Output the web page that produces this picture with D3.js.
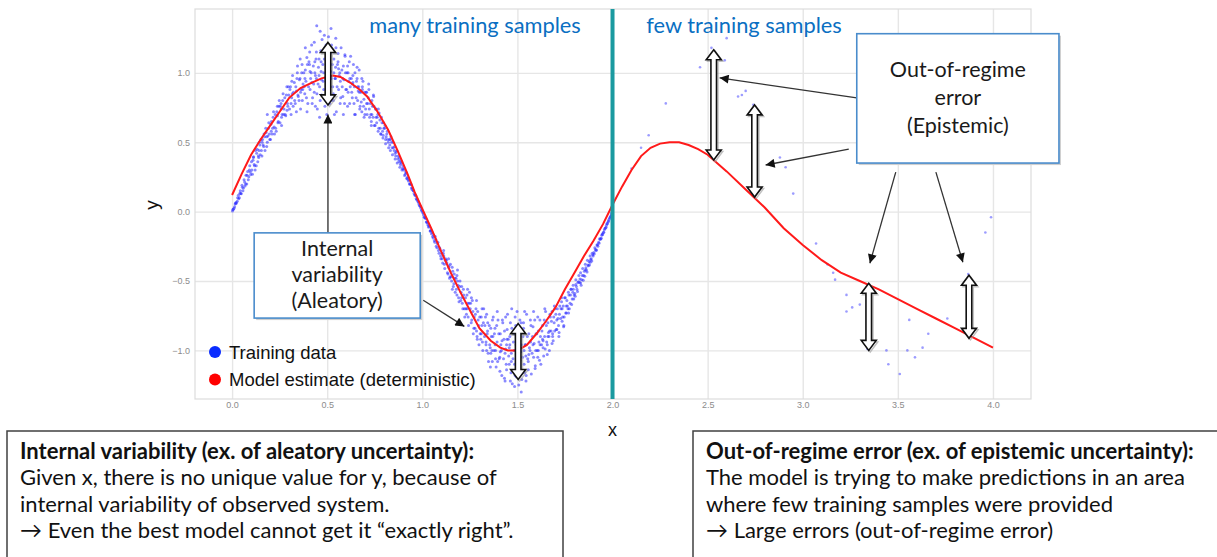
<!DOCTYPE html>
<html>
<head>
<meta charset="utf-8">
<script src="https://cdn.jsdelivr.net/npm/d3@7"></script>
<style>
  body { margin: 0; background: #fff; }
  svg { display: block; }
</style>
</head>
<body>
<div id="chart"></div>
<script>
// ---- data ----
const xTicks = [0, 0.5, 1, 1.5, 2, 2.5, 3, 3.5, 4];
const yTicks = [-1, -0.5, 0, 0.5, 1];

// dense training samples, x in [0, 2] (first pass)
const denseData = [
  [0.002,0.004],[0.007,0.018],[0.013,0.035],[0.018,0.062],[0.023,0.066],
  [0.027,0.075],[0.033,0.118],[0.038,0.100],[0.043,0.150],[0.048,0.128],
  [0.052,0.190],[0.057,0.150],[0.063,0.230],[0.068,0.185],[0.073,0.262],
  [0.077,0.200],[0.082,0.290],[0.088,0.252],[0.093,0.330],[0.098,0.268],
  [0.102,0.360],[0.107,0.270],[0.113,0.395],[0.118,0.330],[0.123,0.440],
  [0.127,0.330],[0.132,0.450],[0.138,0.400],[0.143,0.500],[0.148,0.410],
  [0.152,0.520],[0.157,0.400],[0.163,0.480],[0.168,0.560],[0.173,0.440],
  [0.177,0.600],[0.182,0.470],[0.188,0.545],[0.193,0.640],[0.198,0.520],[0.185,0.700],
  [0.202,0.520],[0.207,0.650],[0.213,0.600],[0.218,0.720],[0.223,0.560],
  [0.227,0.700],[0.232,0.580],[0.238,0.760],[0.243,0.650],[0.248,0.800],
  [0.252,0.640],[0.257,0.780],[0.263,0.700],[0.268,0.850],[0.273,0.740],[0.260,0.620],
  [0.277,0.820],[0.282,0.690],[0.288,0.900],[0.293,0.760],[0.298,0.840],
  [0.302,0.740],[0.307,0.900],[0.313,0.820],[0.318,0.980],[0.323,0.860],[0.310,0.700],
  [0.327,0.930],[0.332,0.780],[0.338,0.870],[0.343,1.000],[0.348,0.830],
  [0.352,0.800],[0.357,0.960],[0.363,0.880],[0.368,1.060],[0.373,0.920],[0.360,0.740],
  [0.377,1.000],[0.382,0.850],[0.388,0.940],[0.393,1.110],[0.398,0.780],[0.385,1.180],
  [0.402,0.900],[0.407,1.060],[0.413,0.960],[0.418,1.200],[0.423,0.820],[0.410,1.010],
  [0.427,1.050],[0.432,0.860],[0.438,0.980],[0.443,1.150],[0.448,0.740],[0.445,1.340],[0.435,1.080],
  [0.452,0.920],[0.457,1.100],[0.463,0.800],[0.468,1.010],[0.473,1.240],[0.460,0.680],[0.470,0.950],
  [0.477,1.060],[0.482,0.880],[0.488,1.180],[0.493,0.960],[0.498,0.700],[0.485,1.270],[0.495,1.030],
  [0.502,0.940],[0.507,1.120],[0.513,0.780],[0.518,1.010],[0.523,1.200],[0.515,0.900],[0.520,1.320],
  [0.527,1.060],[0.532,0.850],[0.538,1.150],[0.543,0.960],[0.548,0.720],[0.535,1.000],[0.545,1.250],
  [0.552,0.900],[0.557,1.080],[0.563,0.980],[0.568,0.780],[0.573,1.180],[0.560,1.030],
  [0.577,1.020],[0.582,0.830],[0.588,0.950],[0.593,1.130],[0.598,0.880],[0.585,0.700],
  [0.602,0.880],[0.607,1.050],[0.613,0.940],[0.618,0.780],[0.623,1.120],[0.610,1.000],
  [0.627,0.960],[0.632,0.820],[0.638,1.060],[0.643,0.900],[0.648,0.700],[0.635,0.930],
  [0.652,0.820],[0.657,0.960],[0.663,0.870],[0.668,1.020],[0.673,0.760],[0.660,0.900],
  [0.677,0.860],[0.682,0.720],[0.688,0.940],[0.693,0.810],[0.698,0.700],[0.685,0.880],
  [0.702,0.740],[0.707,0.860],[0.713,0.780],[0.718,0.920],[0.723,0.680],
  [0.727,0.780],[0.732,0.650],[0.738,0.760],[0.743,0.840],[0.748,0.620],[0.735,0.700],
  [0.752,0.620],[0.757,0.740],[0.763,0.680],[0.768,0.580],[0.773,0.710],
  [0.777,0.660],[0.782,0.560],[0.788,0.640],[0.793,0.530],[0.798,0.600],
  [0.802,0.600],[0.807,0.490],[0.813,0.560],[0.818,0.520],[0.823,0.460],
  [0.827,0.520],[0.832,0.440],[0.838,0.500],[0.843,0.410],[0.848,0.460],
  [0.852,0.440],[0.857,0.380],[0.863,0.430],[0.868,0.350],[0.873,0.400],
  [0.877,0.360],[0.882,0.320],[0.888,0.350],[0.893,0.300],[0.898,0.330],
  [0.902,0.300],[0.907,0.260],[0.913,0.285],[0.918,0.240],[0.923,0.250],
  [0.927,0.220],[0.932,0.200],[0.938,0.200],[0.943,0.170],[0.948,0.170],
  [0.952,0.150],[0.957,0.130],[0.963,0.120],[0.968,0.095],[0.973,0.090],
  [0.977,0.075],[0.982,0.055],[0.988,0.040],[0.993,0.025],[0.998,0.008],
  [1.002,-0.005],[1.007,-0.025],[1.013,-0.040],[1.018,-0.050],[1.023,-0.075],
  [1.027,-0.080],[1.032,-0.110],[1.038,-0.110],[1.043,-0.140],[1.048,-0.160],
  [1.052,-0.150],[1.057,-0.190],[1.063,-0.210],[1.068,-0.180],[1.073,-0.250],
  [1.077,-0.260],[1.082,-0.220],[1.088,-0.300],[1.093,-0.270],[1.098,-0.340],
  [1.102,-0.300],[1.107,-0.370],[1.113,-0.320],[1.118,-0.410],[1.123,-0.340],
  [1.127,-0.350],[1.132,-0.440],[1.138,-0.400],[1.143,-0.480],[1.148,-0.380],
  [1.152,-0.470],[1.157,-0.400],[1.163,-0.540],[1.168,-0.450],[1.173,-0.580],
  [1.177,-0.480],[1.182,-0.600],[1.188,-0.530],[1.193,-0.650],[1.198,-0.500],[1.185,-0.420],
  [1.202,-0.640],[1.207,-0.540],[1.213,-0.700],[1.218,-0.600],[1.223,-0.760],
  [1.227,-0.620],[1.232,-0.740],[1.238,-0.660],[1.243,-0.820],[1.248,-0.580],[1.235,-0.700],
  [1.252,-0.700],[1.257,-0.800],[1.263,-0.640],[1.268,-0.880],[1.273,-0.760],
  [1.277,-0.840],[1.282,-0.700],[1.288,-0.900],[1.293,-0.780],[1.298,-0.960],[1.285,-0.640],
  [1.302,-0.760],[1.307,-0.920],[1.313,-0.820],[1.318,-1.000],[1.323,-0.700],[1.310,-0.880],
  [1.327,-0.900],[1.332,-0.760],[1.338,-1.000],[1.343,-0.860],[1.348,-1.080],[1.335,-0.940],
  [1.352,-0.820],[1.357,-0.980],[1.363,-0.900],[1.368,-1.080],[1.373,-0.760],[1.360,-1.020],
  [1.377,-1.000],[1.382,-0.840],[1.388,-1.120],[1.393,-0.940],[1.398,-0.780],[1.385,-1.060],
  [1.402,-0.880],[1.407,-1.050],[1.413,-0.960],[1.418,-1.180],[1.423,-0.800],[1.410,-1.010],
  [1.427,-1.060],[1.432,-0.860],[1.438,-0.990],[1.443,-1.140],[1.448,-0.740],[1.435,-1.220],[1.445,-0.920],
  [1.452,-0.920],[1.457,-1.100],[1.463,-0.800],[1.468,-1.020],[1.473,-1.240],[1.460,-0.960],[1.470,-0.700],
  [1.477,-1.060],[1.482,-0.880],[1.488,-1.180],[1.493,-0.960],[1.498,-0.720],[1.485,-1.260],[1.495,-1.030],
  [1.502,-0.940],[1.507,-1.120],[1.513,-0.780],[1.518,-1.010],[1.523,-1.210],[1.515,-0.880],[1.520,-1.300],
  [1.527,-1.050],[1.532,-0.840],[1.538,-1.160],[1.543,-0.960],[1.548,-0.740],[1.535,-1.000],[1.545,-1.220],
  [1.552,-0.900],[1.557,-1.080],[1.563,-0.980],[1.568,-0.780],[1.573,-1.170],[1.560,-1.030],
  [1.577,-1.020],[1.582,-0.830],[1.588,-0.950],[1.593,-1.130],[1.598,-0.880],[1.585,-0.720],
  [1.602,-0.880],[1.607,-1.050],[1.613,-0.940],[1.618,-0.780],[1.623,-1.100],[1.610,-1.000],
  [1.627,-0.960],[1.632,-0.820],[1.638,-1.040],[1.643,-0.900],[1.648,-0.720],[1.635,-0.930],
  [1.652,-0.820],[1.657,-0.960],[1.663,-0.870],[1.668,-1.000],[1.673,-0.760],[1.660,-0.900],
  [1.677,-0.860],[1.682,-0.720],[1.688,-0.930],[1.693,-0.800],[1.698,-0.700],[1.685,-0.880],
  [1.702,-0.740],[1.707,-0.850],[1.713,-0.770],[1.718,-0.900],[1.723,-0.680],
  [1.727,-0.770],[1.732,-0.650],[1.738,-0.760],[1.743,-0.830],[1.748,-0.620],[1.735,-0.700],
  [1.752,-0.620],[1.757,-0.730],[1.763,-0.680],[1.768,-0.580],[1.773,-0.700],
  [1.777,-0.660],[1.782,-0.560],[1.788,-0.630],[1.793,-0.530],[1.798,-0.600],
  [1.802,-0.590],[1.807,-0.490],[1.813,-0.560],[1.818,-0.510],[1.823,-0.460],
  [1.827,-0.510],[1.832,-0.440],[1.838,-0.490],[1.843,-0.410],[1.848,-0.460],
  [1.852,-0.430],[1.857,-0.380],[1.863,-0.420],[1.868,-0.350],[1.873,-0.390],
  [1.877,-0.360],[1.882,-0.320],[1.888,-0.340],[1.893,-0.300],[1.898,-0.320],
  [1.902,-0.295],[1.907,-0.260],[1.913,-0.280],[1.918,-0.240],[1.923,-0.250],
  [1.927,-0.220],[1.932,-0.195],[1.938,-0.195],[1.943,-0.170],[1.948,-0.165],
  [1.952,-0.150],[1.957,-0.130],[1.963,-0.118],[1.968,-0.098],[1.973,-0.088],
  [1.977,-0.072],[1.982,-0.055],[1.988,-0.038],[1.993,-0.024],[1.998,-0.006]
];

// dense training samples, second pass
const denseExtra = [
  [0.004,0.016],[0.010,0.024],[0.016,0.055],[0.021,0.058],
  [0.029,0.100],[0.035,0.092],[0.041,0.132],[0.046,0.130],
  [0.054,0.175],[0.060,0.170],[0.066,0.214],[0.071,0.200],
  [0.079,0.262],[0.085,0.230],[0.091,0.300],[0.096,0.285],
  [0.104,0.300],[0.110,0.370],[0.116,0.340],[0.121,0.300],[0.112,0.390],
  [0.129,0.420],[0.135,0.360],[0.141,0.440],[0.146,0.480],[0.140,0.390],
  [0.154,0.440],[0.160,0.520],[0.166,0.470],[0.171,0.540],[0.158,0.500],
  [0.179,0.570],[0.185,0.500],[0.191,0.600],[0.196,0.560],[0.182,0.540],
  [0.204,0.630],[0.210,0.560],[0.216,0.680],[0.221,0.610],[0.206,0.580],
  [0.229,0.600],[0.235,0.720],[0.241,0.640],[0.246,0.760],[0.238,0.690],
  [0.254,0.760],[0.260,0.680],[0.266,0.800],[0.271,0.700],[0.258,0.740],
  [0.279,0.700],[0.285,0.840],[0.291,0.780],[0.296,0.900],[0.289,0.730],
  [0.304,0.880],[0.310,0.780],[0.316,0.850],[0.321,0.760],[0.314,0.940],
  [0.329,0.800],[0.335,0.900],[0.341,0.960],[0.346,0.840],[0.338,0.720],[0.344,1.050],
  [0.354,0.950],[0.360,0.860],[0.366,1.000],[0.371,0.880],[0.358,1.100],[0.369,0.800],
  [0.379,0.900],[0.385,1.020],[0.391,0.820],[0.396,1.060],[0.383,0.960],[0.394,0.720],
  [0.404,1.080],[0.410,0.880],[0.416,1.000],[0.421,0.780],[0.408,1.150],[0.419,0.930],
  [0.429,0.920],[0.435,1.000],[0.441,1.100],[0.446,0.850],[0.432,1.220],[0.443,0.960],[0.438,0.760],
  [0.454,1.040],[0.460,0.900],[0.466,1.160],[0.471,0.840],[0.457,0.980],[0.468,1.080],[0.463,1.300],
  [0.479,0.940],[0.485,1.100],[0.491,0.820],[0.496,1.060],[0.482,1.000],[0.494,1.200],[0.488,0.760],
  [0.504,1.040],[0.510,0.860],[0.516,1.140],[0.521,0.960],[0.507,1.260],[0.519,0.800],[0.513,1.070],
  [0.529,0.900],[0.535,1.100],[0.541,0.960],[0.546,1.180],[0.532,0.800],[0.544,1.040],[0.538,0.700],
  [0.554,1.060],[0.560,0.880],[0.566,1.000],[0.571,0.820],[0.557,1.140],[0.569,0.940],
  [0.579,0.900],[0.585,1.050],[0.591,0.780],[0.596,1.000],[0.582,0.960],[0.594,1.120],
  [0.604,1.000],[0.610,0.860],[0.616,1.080],[0.621,0.900],[0.607,0.760],[0.619,0.960],
  [0.629,0.860],[0.635,0.980],[0.641,0.780],[0.646,1.000],[0.632,0.920],[0.644,0.700],
  [0.654,0.940],[0.660,0.800],[0.666,0.900],[0.671,0.740],[0.657,1.040],[0.669,0.860],
  [0.679,0.790],[0.685,0.900],[0.691,0.760],[0.696,0.860],[0.682,0.960],[0.694,0.680],
  [0.704,0.860],[0.710,0.700],[0.716,0.820],[0.721,0.740],[0.707,0.780],[0.719,0.880],
  [0.729,0.700],[0.735,0.800],[0.741,0.680],[0.746,0.760],[0.732,0.620],[0.744,0.830],
  [0.754,0.740],[0.760,0.640],[0.766,0.700],[0.771,0.600],[0.757,0.680],[0.769,0.740],
  [0.779,0.600],[0.785,0.680],[0.791,0.580],[0.796,0.640],[0.782,0.560],[0.794,0.550],
  [0.804,0.620],[0.810,0.540],[0.816,0.580],[0.821,0.500],[0.807,0.520],
  [0.829,0.480],[0.835,0.540],[0.841,0.460],[0.846,0.500],[0.832,0.520],
  [0.854,0.470],[0.860,0.400],[0.866,0.440],[0.871,0.380],[0.857,0.420],
  [0.879,0.390],[0.885,0.340],[0.891,0.360],[0.896,0.310],[0.883,0.370],
  [0.904,0.310],[0.910,0.270],[0.916,0.280],[0.921,0.235],
  [0.929,0.230],[0.935,0.200],[0.941,0.195],[0.946,0.160],
  [0.954,0.150],[0.960,0.120],[0.966,0.115],[0.971,0.085],
  [0.979,0.070],[0.985,0.045],[0.991,0.035],[0.996,0.010],
  [1.004,-0.010],[1.010,-0.040],[1.016,-0.045],[1.021,-0.075],
  [1.029,-0.095],[1.035,-0.100],[1.041,-0.140],[1.046,-0.135],
  [1.054,-0.180],[1.060,-0.170],[1.066,-0.220],[1.071,-0.200],
  [1.079,-0.230],[1.085,-0.280],[1.091,-0.260],[1.096,-0.320],
  [1.104,-0.340],[1.110,-0.300],[1.116,-0.380],[1.121,-0.350],[1.112,-0.280],
  [1.129,-0.370],[1.135,-0.450],[1.141,-0.390],[1.146,-0.470],[1.138,-0.340],
  [1.154,-0.500],[1.160,-0.430],[1.166,-0.520],[1.171,-0.480],[1.158,-0.560],
  [1.179,-0.560],[1.185,-0.500],[1.191,-0.620],[1.196,-0.540],[1.182,-0.460],
  [1.204,-0.580],[1.210,-0.660],[1.216,-0.560],[1.221,-0.700],[1.207,-0.620],
  [1.229,-0.700],[1.235,-0.600],[1.241,-0.760],[1.246,-0.660],[1.238,-0.560],
  [1.254,-0.660],[1.260,-0.780],[1.266,-0.720],[1.271,-0.840],[1.258,-0.620],
  [1.279,-0.740],[1.285,-0.860],[1.291,-0.720],[1.296,-0.820],[1.289,-0.920],
  [1.304,-0.880],[1.310,-0.760],[1.316,-0.940],[1.321,-0.800],[1.314,-0.700],
  [1.329,-0.820],[1.335,-0.960],[1.341,-0.880],[1.346,-1.020],[1.338,-0.740],[1.344,-0.800],
  [1.354,-0.960],[1.360,-0.840],[1.366,-1.000],[1.371,-0.900],[1.358,-1.120],[1.369,-0.780],
  [1.379,-0.880],[1.385,-1.000],[1.391,-0.820],[1.396,-1.080],[1.383,-0.960],[1.394,-0.720],
  [1.404,-1.060],[1.410,-0.880],[1.416,-1.000],[1.421,-0.780],[1.408,-1.150],[1.419,-0.930],
  [1.429,-0.920],[1.435,-1.020],[1.441,-1.100],[1.446,-0.850],[1.432,-1.200],[1.443,-0.960],[1.438,-0.760],
  [1.454,-1.040],[1.460,-0.900],[1.466,-1.160],[1.471,-0.840],[1.457,-0.980],[1.468,-1.080],[1.463,-1.220],
  [1.479,-0.940],[1.485,-1.100],[1.491,-0.820],[1.496,-1.060],[1.482,-1.000],[1.494,-1.190],[1.488,-0.760],
  [1.504,-1.040],[1.510,-0.860],[1.516,-1.140],[1.521,-0.960],[1.507,-1.250],[1.519,-0.800],[1.513,-1.070],
  [1.529,-0.900],[1.535,-1.100],[1.541,-0.960],[1.546,-1.180],[1.532,-0.800],[1.544,-1.040],[1.538,-0.720],
  [1.554,-1.060],[1.560,-0.880],[1.566,-1.000],[1.571,-0.820],[1.557,-1.140],[1.569,-0.940],
  [1.579,-0.900],[1.585,-1.050],[1.591,-0.780],[1.596,-1.000],[1.582,-0.960],[1.594,-1.110],
  [1.604,-1.000],[1.610,-0.860],[1.616,-1.070],[1.621,-0.900],[1.607,-0.760],[1.619,-0.960],
  [1.629,-0.860],[1.635,-0.980],[1.641,-0.780],[1.646,-0.990],[1.632,-0.920],[1.644,-0.700],
  [1.654,-0.940],[1.660,-0.800],[1.666,-0.900],[1.671,-0.740],[1.657,-1.030],[1.669,-0.860],
  [1.679,-0.790],[1.685,-0.900],[1.691,-0.760],[1.696,-0.860],[1.682,-0.950],[1.694,-0.680],
  [1.704,-0.850],[1.710,-0.700],[1.716,-0.820],[1.721,-0.740],[1.707,-0.780],[1.719,-0.870],
  [1.729,-0.700],[1.735,-0.790],[1.741,-0.680],[1.746,-0.760],[1.732,-0.620],[1.744,-0.820],
  [1.754,-0.730],[1.760,-0.640],[1.766,-0.700],[1.771,-0.600],[1.757,-0.680],[1.769,-0.730],
  [1.779,-0.600],[1.785,-0.670],[1.791,-0.580],[1.796,-0.630],[1.782,-0.560],[1.794,-0.560],
  [1.804,-0.610],[1.810,-0.540],[1.816,-0.575],[1.821,-0.505],[1.807,-0.525],
  [1.829,-0.485],[1.835,-0.530],[1.841,-0.460],[1.846,-0.495],[1.832,-0.515],
  [1.854,-0.465],[1.860,-0.405],[1.866,-0.435],[1.871,-0.385],[1.857,-0.420],
  [1.879,-0.385],[1.885,-0.345],[1.891,-0.355],[1.896,-0.310],[1.883,-0.365],
  [1.904,-0.305],[1.910,-0.272],[1.916,-0.276],[1.921,-0.238],
  [1.929,-0.228],[1.935,-0.200],[1.941,-0.192],[1.946,-0.162],
  [1.954,-0.148],[1.960,-0.122],[1.966,-0.113],[1.971,-0.086],
  [1.979,-0.068],[1.985,-0.046],[1.991,-0.033],[1.996,-0.012]
];

// few training samples, x in (2, 4]
const sparseData = [
  [2.10,0.31],[2.15,0.46],[2.19,0.55],[2.28,0.78],[2.46,1.04],[2.52,1.18],
  [2.59,1.09],[2.60,1.25],[2.66,0.83],[2.68,0.84],[2.70,0.87],[2.74,0.77],
  [2.88,0.39],[2.91,0.32],[2.95,0.13],[3.07,-0.23],[3.13,-0.38],[3.16,-0.44],
  [3.17,-0.49],[3.23,-0.60],[3.23,-0.72],[3.26,-0.69],[3.30,-0.67],[3.34,-0.99],
  [3.44,-1.00],[3.45,-1.10],[3.51,-1.17],[3.55,-1.00],[3.56,-0.78],[3.59,-1.05],
  [3.63,-0.98],[3.66,-0.88],[3.76,-0.77],[3.87,-0.45],[3.96,-0.15],[3.99,-0.04]
];

// model estimate (red line)
const modelX = [0, 0.05, 0.1, 0.15, 0.2, 0.25, 0.3, 0.36, 0.42, 0.47, 0.53, 0.57, 0.62, 0.67,
  0.71, 0.76, 0.82, 0.87, 0.92, 0.96, 1.0, 1.05, 1.1, 1.15, 1.2, 1.25, 1.3, 1.36, 1.41, 1.45,
  1.5, 1.55, 1.6, 1.65, 1.7, 1.75, 1.8, 1.85, 1.9, 1.95, 2.0, 2.05, 2.1, 2.15, 2.2, 2.25, 2.3,
  2.35, 2.4, 2.45, 2.5, 2.6, 2.7, 2.8, 2.9, 3.0, 3.1, 3.2, 3.3, 3.4, 3.5, 3.6, 3.7, 3.8, 3.9, 4.0];
const modelY = [0.12, 0.27, 0.41, 0.52, 0.62, 0.72, 0.82, 0.89, 0.93, 0.96, 0.98, 0.97, 0.93, 0.88,
  0.83, 0.73, 0.59, 0.44, 0.28, 0.14, 0.02, -0.13, -0.29, -0.44, -0.58, -0.71, -0.84, -0.93, -0.98, -1.00,
  -1.00, -0.96, -0.88, -0.79, -0.69, -0.56, -0.44, -0.32, -0.21, -0.09, 0.05, 0.18, 0.30, 0.40, 0.46, 0.49, 0.50,
  0.50, 0.48, 0.45, 0.41, 0.29, 0.16, 0.03, -0.12, -0.24, -0.35, -0.44, -0.50, -0.56, -0.63, -0.70, -0.77, -0.84, -0.91, -0.98];

const splitX = 2.0;
const legendLabels = ['Training data', 'Model estimate (deterministic)'];
const legendColors = ['#0a2cff', '#ff0000'];
const regionLabels = ['many training samples', 'few training samples'];

// double arrows: [x, yTop, yBottom]
const spreadArrows = [
  [0.504, 1.219, 0.769], [1.504, -0.807, -1.209], [2.532, 1.166, 0.372],
  [2.747, 0.769, 0.105], [3.347, -0.516, -1.000], [3.874, -0.458, -0.913]
];
// pointer arrows: [x1, y1, x2, y2]
const pointers = [
  [0.504, -0.153, 0.504, 0.70], [1.005, -0.639, 1.221, -0.827],
  [3.284, 0.819, 2.563, 0.964], [3.242, 0.451, 2.805, 0.336],
  [3.489, 0.285, 3.353, -0.372], [3.700, 0.285, 3.842, -0.365]
];
const calloutA = ['Internal', 'variability', '(Aleatory)'];
const calloutB = ['Out-of-regime', 'error', '(Epistemic)'];
const noteLeft = ['Internal variability (ex. of aleatory uncertainty):',
  'Given x, there is no unique value for y, because of',
  'internal variability of observed system.',
  '\u2192 Even the best model cannot get it \u201cexactly right\u201d.'];
const noteRight = ['Out-of-regime error (ex. of epistemic uncertainty):',
  'The model is trying to make predictions in an area',
  'where few training samples were provided',
  '\u2192 Large errors (out-of-regime error)'];

// ---- layout ----
const width = 1217, height = 557;
const plot = {left: 195, right: 1031, top: 9, bottom: 399};

const x = d3.scaleLinear().domain([-0.195, 4.2]).range([plot.left, plot.right]);
const y = d3.scaleLinear().domain([-1.35, 1.46]).range([plot.bottom, plot.top]);
const fmt = d3.format('.1f');

const svg = d3.select('#chart').append('svg')
  .attr('width', width)
  .attr('height', height)
  .style('font-family', 'Lato, "Open Sans", sans-serif');

const defs = svg.append('defs');
defs.append('marker')
  .attr('id', 'tip')
  .attr('viewBox', '0 0 10 10')
  .attr('refX', 10).attr('refY', 5)
  .attr('markerWidth', 11).attr('markerHeight', 9)
  .attr('markerUnits', 'userSpaceOnUse')
  .attr('orient', 'auto')
  .append('path')
    .attr('d', 'M0,0L10,5L0,10Z')
    .attr('fill', '#111');

// grid + tick labels
const gx = svg.append('g')
  .attr('transform', `translate(0,${plot.bottom})`)
  .call(d3.axisBottom(x).tickValues(xTicks).tickFormat(fmt)
    .tickSize(-(plot.bottom - plot.top)).tickPadding(3));
const gy = svg.append('g')
  .attr('transform', `translate(${plot.left},0)`)
  .call(d3.axisLeft(y).tickValues(yTicks).tickFormat(fmt)
    .tickSize(-(plot.right - plot.left)).tickPadding(5));
[gx, gy].forEach(g => {
  g.select('.domain').remove();
  g.selectAll('line').attr('stroke', '#e6e6e6').attr('stroke-width', 1.4);
  g.selectAll('text')
    .attr('fill', '#8c8c8c')
    .style('font-size', '9px')
    .style('font-family', '"Liberation Sans", Arial, sans-serif');
});

svg.append('rect')
  .attr('x', plot.left).attr('y', plot.top)
  .attr('width', plot.right - plot.left).attr('height', plot.bottom - plot.top)
  .attr('fill', 'none').attr('stroke', '#dcdcdc').attr('stroke-width', 1.2);

// axis titles
svg.append('text')
  .attr('x', x(splitX)).attr('y', 436)
  .attr('text-anchor', 'middle')
  .style('font-family', '"Liberation Sans", Arial, sans-serif')
  .style('font-size', '18px').attr('fill', '#111')
  .text('x');
svg.append('text')
  .attr('transform', 'translate(158,205) rotate(-90)')
  .attr('text-anchor', 'middle')
  .style('font-family', '"Liberation Sans", Arial, sans-serif')
  .style('font-size', '19px').attr('fill', '#111')
  .text('y');

// training samples
svg.append('g')
  .selectAll('circle')
  .data(denseData.concat(denseExtra))
  .join('circle')
    .attr('cx', d => x(d[0]))
    .attr('cy', d => y(d[1]))
    .attr('r', 1.5)
    .attr('fill', '#2a2aff')
    .attr('fill-opacity', 0.55);
svg.append('g')
  .selectAll('circle')
  .data(sparseData)
  .join('circle')
    .attr('cx', d => x(d[0]))
    .attr('cy', d => y(d[1]))
    .attr('r', 1.3)
    .attr('fill', '#5a5aff')
    .attr('fill-opacity', 0.6);

// model line
const line = d3.line()
  .x(d => x(d[0]))
  .y(d => y(d[1]));
svg.append('path')
  .datum(modelX.map((v, i) => [v, modelY[i]]))
  .attr('d', line)
  .attr('fill', 'none')
  .attr('stroke', '#ff1a1a')
  .attr('stroke-width', 2);

// split line
svg.append('line')
  .attr('x1', x(splitX)).attr('x2', x(splitX))
  .attr('y1', plot.top).attr('y2', plot.bottom)
  .attr('stroke', '#1b9aa0').attr('stroke-width', 4);

svg.selectAll('.region')
  .data(regionLabels)
  .join('text')
    .attr('class', 'region')
    .attr('x', (d, i) => i === 0 ? 475 : 744)
    .attr('y', 33)
    .attr('text-anchor', 'middle')
    .attr('fill', '#0a6fc2')
    .style('font-size', '21.8px')
    .text(d => d);

// legend
const legend = svg.append('g')
  .style('font-family', '"Liberation Sans", Arial, sans-serif')
  .style('font-size', '18.5px');
legendLabels.forEach((label, i) => {
  legend.append('circle')
    .attr('cx', 215).attr('cy', 352 + i * 27.5).attr('r', 6)
    .attr('fill', legendColors[i]);
  legend.append('text')
    .attr('x', 229).attr('y', 358.5 + i * 27.5)
    .attr('fill', '#111')
    .text(label);
});

// hollow double arrows
const hw = 7.5, sw = 2.8, hl = 10;
const dblPath = d => {
  const cx = x(d[0]), t = y(d[1]), b = y(d[2]);
  return `M${cx},${t}L${cx + hw},${t + hl}L${cx + sw},${t + hl}L${cx + sw},${b - hl}` +
    `L${cx + hw},${b - hl}L${cx},${b}L${cx - hw},${b - hl}L${cx - sw},${b - hl}` +
    `L${cx - sw},${t + hl}L${cx - hw},${t + hl}Z`;
};
const dbl = svg.append('g');
dbl.selectAll('.shadow')
  .data(spreadArrows)
  .join('path')
    .attr('class', 'shadow')
    .attr('d', dblPath)
    .attr('transform', 'translate(1.5,1.5)')
    .attr('fill', 'none')
    .attr('stroke', '#999')
    .attr('stroke-opacity', 0.6)
    .attr('stroke-width', 1.5);
dbl.selectAll('.arrow')
  .data(spreadArrows)
  .join('path')
    .attr('class', 'arrow')
    .attr('d', dblPath)
    .attr('fill', '#fff')
    .attr('stroke', '#111')
    .attr('stroke-width', 1.6);

// pointer arrows
svg.append('g')
  .selectAll('line')
  .data(pointers)
  .join('line')
    .attr('x1', d => x(d[0])).attr('y1', d => y(d[1]))
    .attr('x2', d => x(d[2])).attr('y2', d => y(d[3]))
    .attr('stroke', '#333')
    .attr('stroke-width', 1.3)
    .attr('marker-end', 'url(#tip)');

// callout boxes
function callout(lines, x0, x1, y0, y1, gap) {
  const g = svg.append('g');
  const bx = x(x0), by = y(y0), bw = x(x1) - x(x0), bh = y(y1) - y(y0);
  g.append('rect')
    .attr('x', bx + 2).attr('y', by + 2).attr('width', bw).attr('height', bh)
    .attr('fill', '#cfcfcf');
  g.append('rect')
    .attr('x', bx).attr('y', by).attr('width', bw).attr('height', bh)
    .attr('fill', '#fff').attr('stroke', '#4a8ccc').attr('stroke-width', 1.6);
  const cy = by + bh / 2;
  g.selectAll('text')
    .data(lines)
    .join('text')
      .attr('x', bx + bw / 2)
      .attr('y', (d, i) => cy + (i - 1) * gap + 7)
      .attr('text-anchor', 'middle')
      .attr('fill', '#1a1a1a')
      .style('font-size', '21.5px')
      .text(d => d);
}
callout(calloutA, 0.116, 0.989, -0.153, -0.767, 26);
callout(calloutB, 3.284, 4.347, 1.282, 0.350, 28);

// bottom notes
function note(lines, bx, bw) {
  const g = svg.append('g');
  g.append('rect')
    .attr('x', bx).attr('y', 431).attr('width', bw).attr('height', 140)
    .attr('fill', '#fff').attr('stroke', '#404040').attr('stroke-width', 1.5);
  g.selectAll('text')
    .data(lines)
    .join('text')
      .attr('x', bx + 13)
      .attr('y', (d, i) => 459 + i * 26.4)
      .attr('fill', '#111')
      .style('font-size', '22px')
      .style('font-weight', (d, i) => i === 0 ? 700 : 400)
      .text(d => d);
}
note(noteLeft, 7, 556);
note(noteRight, 693, 560);
</script>
</body>
</html>
